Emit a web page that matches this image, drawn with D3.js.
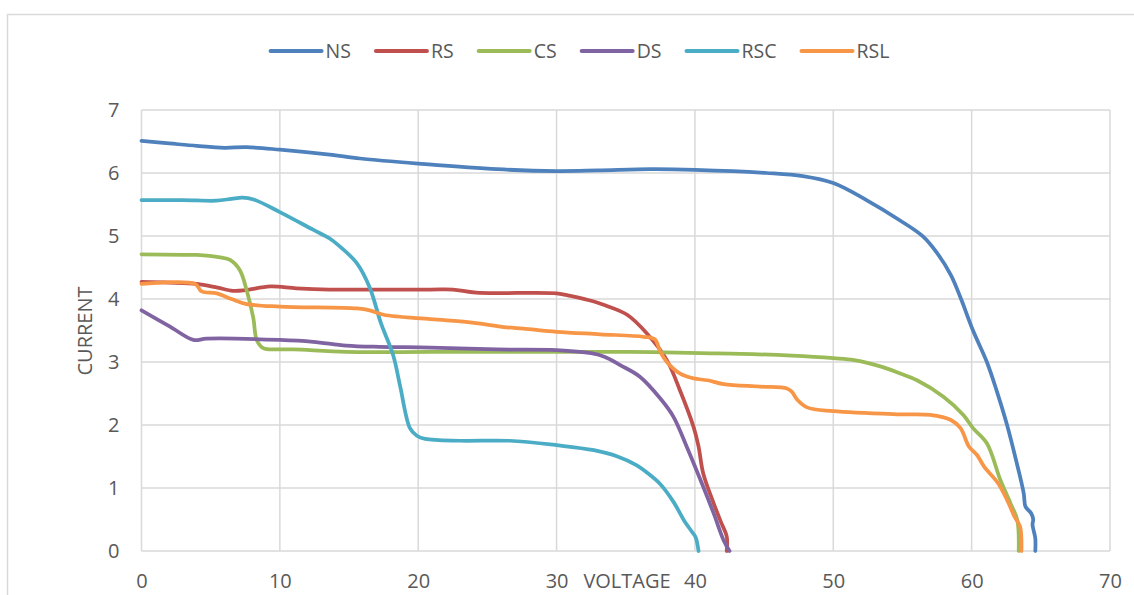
<!DOCTYPE html>
<html>
<head>
<meta charset="utf-8">
<script src="https://cdn.jsdelivr.net/npm/d3@7"></script>
<style>
  html, body { margin: 0; padding: 0; background: #fff; }
  svg { display: block; }
  text { font-family: "Open Sans", "Noto Sans", sans-serif; fill: #595959; }
</style>
</head>
<body>
<svg id="chart" width="1134" height="595"></svg>
<script>
// I-V curves, [voltage, current] pairs per shading condition
const NS = [[0,6.51],[2,6.47],[4,6.43],[6,6.40],[7.6,6.41],[10,6.37],[13.6,6.29],[15.8,6.23],[20,6.15],[25.7,6.06],[30,6.03],[33,6.04],[36.8,6.06],[40,6.05],[45.2,6.0],[47.8,5.95],[50,5.84],[52.4,5.57],[54.8,5.25],[56.5,4.99],[57.5,4.73],[58.5,4.38],[59.2,4.02],[60.1,3.5],[61.1,3.0],[61.8,2.55],[62.56,2.0],[63.2,1.45],[63.76,0.92],[63.9,0.7],[64.3,0.6],[64.45,0.5],[64.4,0.42],[64.6,0.2],[64.6,0]];
const RS = [[0,4.27],[2,4.26],[4,4.24],[5.5,4.18],[6.6,4.13],[7.5,4.14],[9.3,4.2],[11.2,4.17],[13.6,4.15],[20.9,4.15],[22.5,4.15],[24.2,4.1],[30,4.09],[31,4.05],[32.7,3.96],[33.5,3.9],[35.1,3.75],[36.5,3.46],[37.97,3.03],[38.9,2.56],[39.9,1.97],[40.26,1.66],[40.6,1.23],[41.35,0.76],[41.9,0.45],[42.3,0.23],[42.3,0]];
const CS = [[0,4.71],[3,4.70],[4,4.70],[5.7,4.66],[6.4,4.62],[7.1,4.46],[7.6,4.14],[8.08,3.7],[8.33,3.35],[8.8,3.22],[10,3.2],[11,3.2],[14.8,3.16],[20.9,3.16],[30,3.16],[35.3,3.16],[40.4,3.14],[43.3,3.13],[47,3.1],[50,3.06],[51.5,3.03],[53.4,2.93],[54.8,2.82],[56.05,2.71],[57.96,2.45],[59.4,2.16],[60.1,1.95],[61.1,1.71],[62.07,1.13],[62.8,0.76],[63.3,0.49],[63.4,0]];
const DS = [[0,3.82],[2,3.57],[3.75,3.35],[4.7,3.37],[10,3.35],[12.4,3.32],[14.8,3.26],[17.2,3.24],[20.9,3.23],[25.7,3.2],[30,3.19],[32.5,3.14],[33.5,3.08],[34.6,2.95],[36,2.77],[37.5,2.42],[38.45,2.13],[39.4,1.66],[40.1,1.29],[40.6,1.02],[41.35,0.6],[42.07,0.17],[42.5,0]];
const RSC = [[0,5.57],[3,5.57],[5.4,5.56],[6.5,5.59],[7.3,5.61],[8.1,5.58],[10,5.38],[12.4,5.1],[13.6,4.96],[14.35,4.83],[15.56,4.57],[16.5,4.18],[17.3,3.62],[18.2,3.1],[18.7,2.61],[19.4,1.95],[19.9,1.83],[20.5,1.78],[23,1.75],[26.6,1.75],[30,1.68],[32.7,1.60],[34.4,1.50],[35.8,1.36],[36.5,1.25],[37.5,1.06],[38.45,0.78],[39.2,0.49],[39.8,0.3],[40.05,0.22],[40.26,0]];
const RSL = [[0,4.24],[3.87,4.24],[4.35,4.12],[5.44,4.09],[6.5,4.0],[7.6,3.92],[10,3.88],[15.56,3.85],[16.5,3.82],[17.5,3.75],[20.9,3.68],[23.75,3.63],[26.4,3.55],[27.6,3.53],[30,3.48],[33.15,3.44],[36.3,3.40],[37.1,3.36],[37.5,3.16],[37.97,3.0],[38.9,2.82],[39.9,2.74],[40.9,2.71],[42.07,2.65],[44.7,2.61],[46.65,2.58],[47.0,2.53],[47.4,2.4],[48.1,2.28],[50,2.22],[54.8,2.17],[57,2.16],[58.5,2.08],[59.2,1.95],[59.8,1.66],[60.4,1.52],[60.9,1.34],[61.9,1.08],[62.56,0.81],[63.16,0.52],[63.5,0.39],[63.6,0]];

const seriesNames = ["NS", "RS", "CS", "DS", "RSC", "RSL"];
const seriesData = [NS, RS, CS, DS, RSC, RSL];
const seriesColors = ["#4F81BD", "#C0504D", "#9BBB59", "#8064A2", "#4BACC6", "#F79646"];
const xTicks = [0, 10, 20, 30, 40, 50, 60, 70];
const yTicks = [0, 1, 2, 3, 4, 5, 6, 7];

const svg = d3.select("#chart");
const grid = "#d9d9d9";

// outer chart frame
svg.append("rect")
  .attr("x", 7.5).attr("y", 14.5)
  .attr("width", 1200).attr("height", 700)
  .attr("fill", "none").attr("stroke", grid).attr("stroke-width", 1.5);

const x = d3.scaleLinear().domain([0, 70]).range([141.5, 1110]);
const y = d3.scaleLinear().domain([0, 7]).range([551, 110]);

// gridlines
svg.append("g").selectAll("line").data(yTicks).join("line")
  .attr("x1", x(0)).attr("x2", x(70))
  .attr("y1", d => y(d)).attr("y2", d => y(d))
  .attr("stroke", grid).attr("stroke-width", 1.5);
svg.append("g").selectAll("line").data(xTicks).join("line")
  .attr("x1", d => x(d)).attr("x2", d => x(d))
  .attr("y1", y(0)).attr("y2", y(7))
  .attr("stroke", grid).attr("stroke-width", 1.5);

// axes (labels only)
const xAxis = svg.append("g").attr("transform", `translate(0,${y(0)})`)
  .call(d3.axisBottom(x).tickValues(xTicks).tickSize(0).tickPadding(0).tickFormat(d3.format("d")));
xAxis.select(".domain").remove();
xAxis.selectAll("text").attr("y", 30).attr("dy", "0.35em")
  .style("font-size", "20px").style("font-family", "'Open Sans', sans-serif").attr("fill", "#595959");

const yAxis = svg.append("g").attr("transform", `translate(${x(0)},0)`)
  .call(d3.axisLeft(y).tickValues(yTicks).tickSize(0).tickPadding(22).tickFormat(d3.format("d")));
yAxis.select(".domain").remove();
yAxis.selectAll("text")
  .style("font-size", "20px").style("font-family", "'Open Sans', sans-serif").attr("fill", "#595959");

// axis titles
svg.append("text")
  .attr("transform", "translate(92,331) rotate(-90)")
  .attr("text-anchor", "middle")
  .style("font-size", "20px")
  .text("CURRENT");
svg.append("text")
  .attr("x", 627).attr("y", 588)
  .attr("text-anchor", "middle")
  .style("font-size", "20px")
  .text("VOLTAGE");

// series
const line = d3.line()
  .x(d => x(d[0])).y(d => y(d[1]))
  .curve(d3.curveCatmullRom.alpha(0.5));
svg.append("g").selectAll("path").data(seriesData).join("path")
  .attr("d", line)
  .attr("fill", "none")
  .attr("stroke", (d, i) => seriesColors[i])
  .attr("stroke-width", 3.75)
  .attr("stroke-linejoin", "round")
  .attr("stroke-linecap", "round");

// legend
const legend = svg.append("g");
let cursor = 0;
seriesNames.forEach((name, i) => {
  const g = legend.append("g").attr("transform", `translate(${cursor},0)`);
  g.append("line").attr("x1", 1).attr("x2", 52).attr("y1", 0).attr("y2", 0)
    .attr("stroke", seriesColors[i]).attr("stroke-width", 4).attr("stroke-linecap", "round");
  const t = g.append("text").attr("x", 56).attr("y", 0).attr("dy", "0.35em")
    .style("font-size", "19.5px").text(name);
  cursor += 56 + t.node().getComputedTextLength() + 24;
});
const legendWidth = cursor - 24;
legend.attr("transform", `translate(${579.5 - legendWidth / 2},51)`);
</script>
</body>
</html>
